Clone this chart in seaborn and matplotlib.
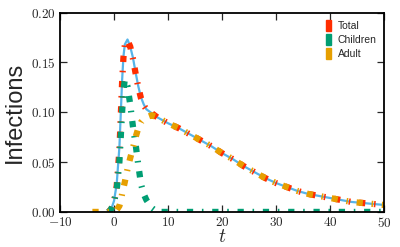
import numpy as np
import pandas as pd
import seaborn as sns
import matplotlib
matplotlib.use("Agg")
import matplotlib.pyplot as plt
from matplotlib.patches import Rectangle
from matplotlib.ticker import FuncFormatter, MultipleLocator

nan = np.nan

# time grid
t = [-4, -3, -2, -1, -0.5, 0, 0.5, 1, 1.25, 1.5, 1.75, 2, 2.5, 3, 3.5, 4, 4.5,
     5, 5.5, 6, 7, 8, 10, 12, 14, 16, 18, 20, 22, 24, 26, 28, 30, 32, 34, 36,
     38, 40, 42, 44, 46, 48, 50]

# fitted model curve (blue)
model = [nan, nan, nan, 0.0, 0.003, 0.011, 0.028, 0.065, 0.098, 0.132, 0.156,
         0.168, 0.173, 0.166, 0.155, 0.140, 0.126, 0.115, 0.108, 0.103, 0.099,
         0.095, 0.089, 0.084, 0.078, 0.072, 0.066, 0.059, 0.053, 0.046, 0.040,
         0.034, 0.029, 0.025, 0.021, 0.018, 0.016, 0.014, 0.012, 0.010, 0.009,
         0.008, 0.007]

# observed series
total = [nan, nan, nan, 0.0, 0.003, 0.010, 0.026, 0.062, 0.096, 0.130, 0.155,
         0.167, 0.172, 0.166, 0.154, 0.139, 0.125, 0.114, 0.107, 0.103, 0.099,
         0.095, 0.089, 0.084, 0.078, 0.072, 0.066, 0.059, 0.053, 0.046, 0.040,
         0.034, 0.029, 0.025, 0.021, 0.018, 0.016, 0.014, 0.012, 0.010, 0.009,
         0.008, 0.007]
children = [nan, nan, nan, 0.0, 0.003, 0.010, 0.022, 0.050, 0.075, 0.100,
            0.122, 0.133, 0.126, 0.108, 0.086, 0.068, 0.047, 0.028, 0.018,
            0.012, 0.004, 0.0, 0.0, 0.0, 0.0, 0.0, 0.0, 0.0, 0.0, 0.0, 0.0,
            0.0, 0.0, 0.0, 0.0, 0.0, 0.0, 0.0, 0.0, 0.0, 0.0, 0.0, 0.0]
adult = [0.0, 0.0, 0.0, 0.0, 0.0, 0.0, 0.002, 0.006, 0.011, 0.018, 0.024,
         0.030, 0.043, 0.054, 0.064, 0.075, 0.084, 0.090, 0.093, 0.095, 0.097,
         0.095, 0.089, 0.084, 0.078, 0.072, 0.066, 0.059, 0.053, 0.046, 0.040,
         0.034, 0.029, 0.025, 0.021, 0.018, 0.016, 0.014, 0.012, 0.010, 0.009,
         0.008, 0.007]

labels = ["Total", "Children", "Adult"]
colors = {"Total": "#FF2D00", "Children": "#009E73", "Adult": "#E69F00"}
model_color = "#56B4E9"

df = pd.DataFrame({"t": t, "Model": model, "Total": total,
                   "Children": children, "Adult": adult})

sns.set_style("ticks")
plt.rcParams["mathtext.fontset"] = "cm"
plt.rcParams["font.family"] = ["Liberation Sans", "DejaVu Sans"]

fig = plt.figure(figsize=(4, 2.47), dpi=100)
ax = fig.add_axes([0.15, 0.142, 0.81, 0.807])

sns.lineplot(data=df, x="t", y="Model", color=model_color, lw=1.6, ax=ax)
dash = (0, (1.0, 1.4, 0.25, 1.4))
for name in labels:
    sns.lineplot(data=df, x="t", y=name, color=colors[name], lw=4.5,
                 linestyle=dash, ax=ax, solid_capstyle="butt")

ax.set_xlim(-10, 50)
ax.set_ylim(0, 0.20)
ax.xaxis.set_major_locator(MultipleLocator(10))
ax.yaxis.set_major_locator(MultipleLocator(0.05))
ax.xaxis.set_major_formatter(FuncFormatter(lambda v, p: f"${v:.0f}$"))
ax.yaxis.set_major_formatter(FuncFormatter(lambda v, p: f"${v:.2f}$"))
ax.tick_params(direction="in", length=5, width=0.9, labelsize=9.5,
               top=True, right=True, pad=3)
for s in ax.spines.values():
    s.set_linewidth(1.3)
    s.set_color("black")

ax.set_xlabel("$t$", fontsize=14)
ax.xaxis.set_label_coords(0.5, -0.085)
ax.set_ylabel("Infections", fontsize=17, labelpad=4)

handles = [Rectangle((0, 0), 1, 1, color=colors[n]) for n in labels]
ax.legend(handles, labels, loc="upper right", frameon=False, fontsize=7.5,
          handlelength=0.45, handleheight=1.2, handletextpad=0.7,
          labelspacing=0.3, borderaxespad=0.3)

fig.savefig("out.png", dpi=100)
